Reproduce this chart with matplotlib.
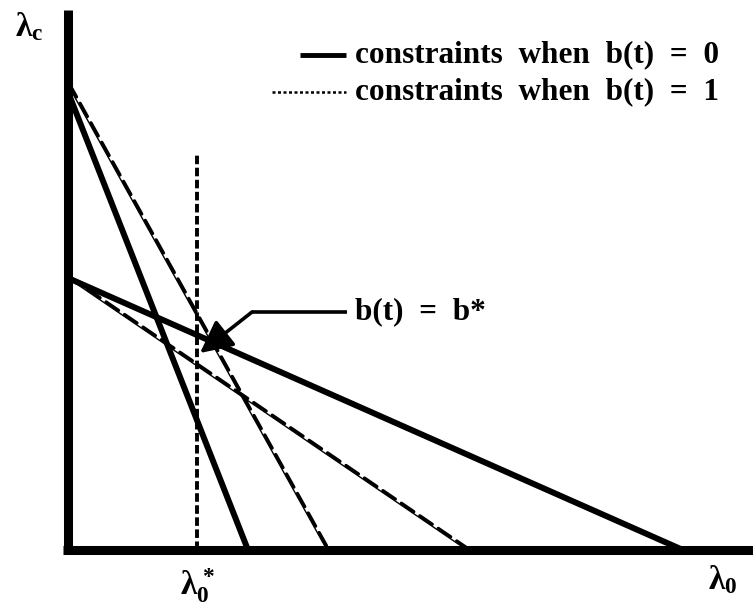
import matplotlib

matplotlib.use("Agg")
import matplotlib.pyplot as plt
import matplotlib.transforms as mtransforms

# Intercepts of the constraint lines (lambda_0 intercept, lambda_c intercept)
steep_solid = (1.80, 4.58)
shallow_solid = (6.15, 2.72)
steep_dashed = (2.59, 4.65)
shallow_dashed = (3.99, 2.72)

lam0_star = 1.29
lam0_star_top = 3.97
bstar_tip = (1.32, 1.97)

legend_labels = ["constraints  when  b(t)  =  0", "constraints  when  b(t)  =  1"]

plt.rcParams.update({
    "font.family": ["Liberation Serif", "DejaVu Serif"],
    "font.weight": "bold",
    "mathtext.fontset": "custom",
    "mathtext.rm": "Liberation Serif:bold",
    "mathtext.it": "Liberation Serif:bold",
    "mathtext.bf": "Liberation Serif:bold",
})

fig = plt.figure(figsize=(7.53, 6.08), dpi=100)
ax = fig.add_axes([0, 0, 1, 1])
ax.set_xlim(-0.68, 6.85)
ax.set_ylim(-0.58, 5.50)
ax.axis("off")

# thick axes
ax.plot([0, 0], [-0.04, 5.40], color="black", lw=6.5, solid_capstyle="butt")
ax.plot([-0.05, 6.9], [0, 0], color="black", lw=6.5, solid_capstyle="butt")


def segment(icpt):
    return [0, icpt[0]], [icpt[1], 0]


# solid constraints
for icpt in (steep_solid, shallow_solid):
    xs, ys = segment(icpt)
    ax.plot(xs, ys, color="black", lw=4.3, solid_capstyle="butt")

# hatched constraints: thin line with short strokes alongside
shift = mtransforms.offset_copy(ax.transData, fig=fig, x=1.2, y=1.2, units="dots")
for icpt in (steep_dashed, shallow_dashed):
    xs, ys = segment(icpt)
    ax.plot(xs, ys, color="black", lw=1.0)
    ax.plot(xs, ys, color="black", lw=2.4, dashes=(4.5, 2.2), transform=shift,
            dash_capstyle="round")

# lambda_0^* marker
ax.plot([lam0_star, lam0_star], [0, lam0_star_top], color="black", lw=2.8,
        dashes=(2.2, 0.9))

# b(t) = b* callout
ax.plot([1.84, 2.79], [2.38, 2.38], color="black", lw=2.6, solid_capstyle="butt")
ax.annotate("", xy=bstar_tip, xytext=(1.84, 2.38),
            arrowprops=dict(arrowstyle="-|>,head_length=0.9,head_width=0.45",
                            color="black", lw=2.6, shrinkA=0, shrinkB=0,
                            mutation_scale=22))
ax.text(2.87, 2.38, "b(t)  =  b*", fontsize=22.5, fontweight="bold",
        ha="left", va="center")

# legend
ax.plot([2.32, 2.78], [4.95, 4.95], color="black", lw=3.5, solid_capstyle="butt")
ax.plot([2.04, 2.78], [4.58, 4.58], color="black", lw=1.8, dashes=(1.2, 1.0))
ax.text(2.87, 4.95, legend_labels[0], fontsize=22.5, fontweight="bold",
        ha="left", va="center", clip_on=False)
ax.text(2.87, 4.58, legend_labels[1], fontsize=22.5, fontweight="bold",
        ha="left", va="center", clip_on=False)

# axis labels
ax.text(-0.385, 5.23, r"$\lambda_\mathrm{c}$", fontsize=24, ha="center", va="center")
ax.text(1.30, -0.36, r"$\lambda_0^*$", fontsize=24, ha="center", va="center")
ax.text(6.55, -0.30, r"$\lambda_0$", fontsize=24, ha="center", va="center")

fig.savefig("out.png", dpi=100)
plt.close(fig)
